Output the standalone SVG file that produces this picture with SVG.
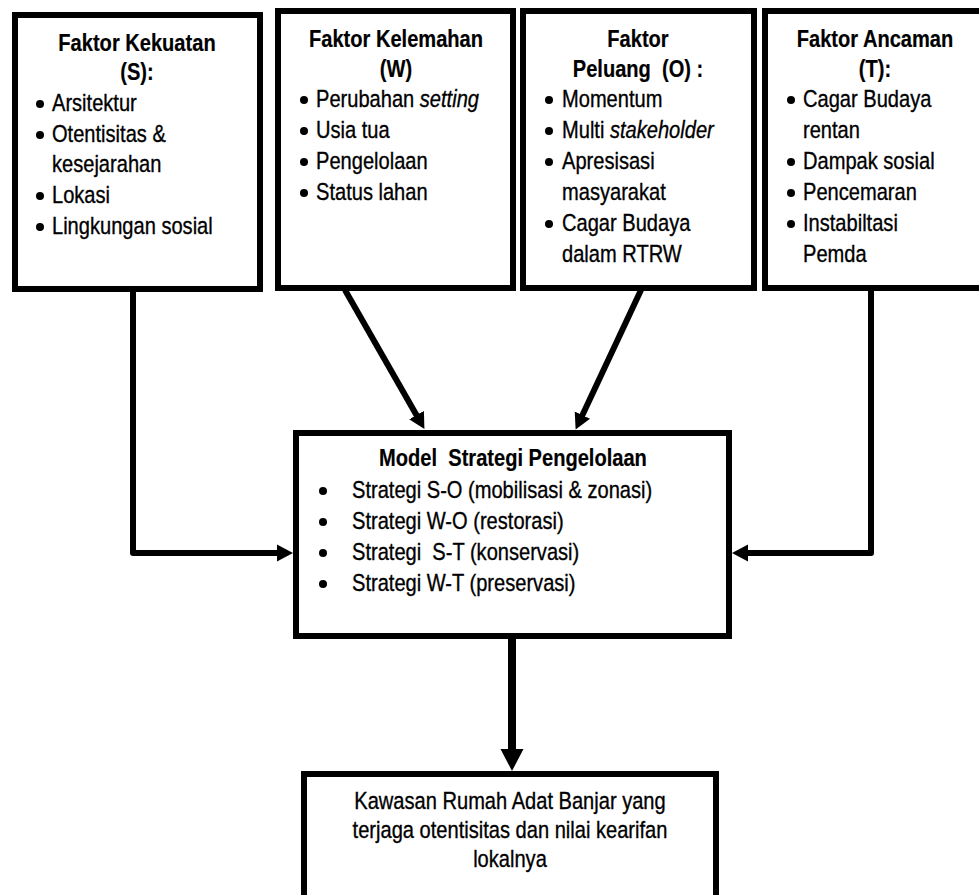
<svg xmlns="http://www.w3.org/2000/svg" width="979" height="895" viewBox="0 0 979 895">
<style>
  .box { fill: #fff; stroke: #000; stroke-width: 6; }
  .t { font-family: "Liberation Sans", Arial, sans-serif; font-size: 24.5px; fill: #000; stroke: #000; stroke-width: 0.35; }
  .b { font-weight: bold; text-anchor: middle; stroke-width: 0.2; }
  .c { text-anchor: middle; }
  .i { font-style: italic; }
  .dot { fill: #000; }
  .conn { fill: none; stroke: #000; stroke-width: 6; stroke-linejoin: round; }
  .thick { stroke-width: 8; }
</style>
<defs>
  <marker id="ah" markerUnits="userSpaceOnUse" markerWidth="17" markerHeight="18" refX="1" refY="8.5" orient="auto" viewBox="0 0 17 17">
    <path d="M0,0 L16,8.5 L0,17 z" fill="#000"/>
  </marker>
  <marker id="ahBig" markerUnits="userSpaceOnUse" markerWidth="23" markerHeight="24" refX="1" refY="11.5" orient="auto" viewBox="0 0 23 23">
    <path d="M0,0 L22,11.5 L0,23 z" fill="#000"/>
  </marker>
</defs>
<rect width="979" height="895" fill="#fff"/>

<g id="connectors">
  <path class="conn" d="M133,290 V553 H278" marker-end="url(#ah)"/>
  <path class="conn" d="M871,290 V553 H747" marker-end="url(#ah)"/>
  <path class="conn" d="M345,290 L417,416" marker-end="url(#ah)"/>
  <path class="conn" d="M641,290 L582,416" marker-end="url(#ah)"/>
  <path class="conn thick" d="M512,637 V750" marker-end="url(#ahBig)"/>
</g>

<g id="node-s">
  <rect class="box" x="15" y="15" width="245" height="274"/>
  <circle class="dot" cx="40" cy="104" r="4"/>
  <circle class="dot" cx="40" cy="135" r="4"/>
  <circle class="dot" cx="40" cy="196" r="4"/>
  <circle class="dot" cx="40" cy="227" r="4"/>
  <g transform="scale(0.82,1)">
    <text class="t b" x="167.07" y="51">Faktor Kekuatan</text>
    <text class="t b" x="167.07" y="80">(S):</text>
    <text class="t" x="63.41" y="111">Arsitektur</text>
    <text class="t" x="63.41" y="142">Otentisitas &amp;</text>
    <text class="t" x="63.41" y="172">kesejarahan</text>
    <text class="t" x="63.41" y="203">Lokasi</text>
    <text class="t" x="63.41" y="234">Lingkungan sosial</text>
  </g>
</g>

<g id="node-w">
  <rect class="box" x="278" y="11" width="235" height="277"/>
  <circle class="dot" cx="304" cy="100" r="4"/>
  <circle class="dot" cx="304" cy="131" r="4"/>
  <circle class="dot" cx="304" cy="162" r="4"/>
  <circle class="dot" cx="304" cy="193" r="4"/>
  <g transform="scale(0.82,1)">
    <text class="t b" x="482.93" y="47">Faktor Kelemahan</text>
    <text class="t b" x="482.93" y="77">(W)</text>
    <text class="t" x="385.37" y="107">Perubahan <tspan class="i">setting</tspan></text>
    <text class="t" x="385.37" y="138">Usia tua</text>
    <text class="t" x="385.37" y="169">Pengelolaan</text>
    <text class="t" x="385.37" y="200">Status lahan</text>
  </g>
</g>

<g id="node-o">
  <rect class="box" x="523" y="11" width="231" height="277"/>
  <circle class="dot" cx="549" cy="100" r="4"/>
  <circle class="dot" cx="549" cy="131" r="4"/>
  <circle class="dot" cx="549" cy="162" r="4"/>
  <circle class="dot" cx="549" cy="224" r="4"/>
  <g transform="scale(0.82,1)">
    <text class="t b" x="778.05" y="47">Faktor</text>
    <text class="t b" x="778.05" y="77" xml:space="preserve">Peluang  (O) :</text>
    <text class="t" x="685.37" y="107">Momentum</text>
    <text class="t" x="685.37" y="138">Multi <tspan class="i">stakeholder</tspan></text>
    <text class="t" x="685.37" y="169">Apresisasi</text>
    <text class="t" x="685.37" y="200">masyarakat</text>
    <text class="t" x="685.37" y="231">Cagar Budaya</text>
    <text class="t" x="685.37" y="262">dalam RTRW</text>
  </g>
</g>

<g id="node-t">
  <rect class="box" x="765" y="11" width="230" height="277"/>
  <circle class="dot" cx="791" cy="100" r="4"/>
  <circle class="dot" cx="791" cy="162" r="4"/>
  <circle class="dot" cx="791" cy="193" r="4"/>
  <circle class="dot" cx="791" cy="224" r="4"/>
  <g transform="scale(0.82,1)">
    <text class="t b" x="1067.07" y="47">Faktor Ancaman</text>
    <text class="t b" x="1067.07" y="77">(T):</text>
    <text class="t" x="979.27" y="107">Cagar Budaya</text>
    <text class="t" x="979.27" y="138">rentan</text>
    <text class="t" x="979.27" y="169">Dampak sosial</text>
    <text class="t" x="979.27" y="200">Pencemaran</text>
    <text class="t" x="979.27" y="231">Instabiltasi</text>
    <text class="t" x="979.27" y="262">Pemda</text>
  </g>
</g>

<g id="node-model">
  <rect class="box" x="296" y="433" width="433" height="203"/>
  <circle class="dot" cx="323" cy="491" r="4"/>
  <circle class="dot" cx="323" cy="522" r="4"/>
  <circle class="dot" cx="323" cy="553" r="4"/>
  <circle class="dot" cx="323" cy="584" r="4"/>
  <g transform="scale(0.82,1)">
    <text class="t b" x="625.61" y="466" xml:space="preserve">Model  Strategi Pengelolaan</text>
    <text class="t" x="429.27" y="498">Strategi S-O (mobilisasi &amp; zonasi)</text>
    <text class="t" x="429.27" y="529">Strategi W-O (restorasi)</text>
    <text class="t" x="429.27" y="560" xml:space="preserve">Strategi  S-T (konservasi)</text>
    <text class="t" x="429.27" y="591">Strategi W-T (preservasi)</text>
  </g>
</g>

<g id="node-result">
  <rect class="box" x="304" y="774" width="412" height="200"/>
  <g transform="scale(0.82,1)">
    <text class="t c" x="621.95" y="809">Kawasan Rumah Adat Banjar yang</text>
    <text class="t c" x="621.95" y="838">terjaga otentisitas dan nilai kearifan</text>
    <text class="t c" x="621.95" y="867">lokalnya</text>
  </g>
</g>
</svg>
